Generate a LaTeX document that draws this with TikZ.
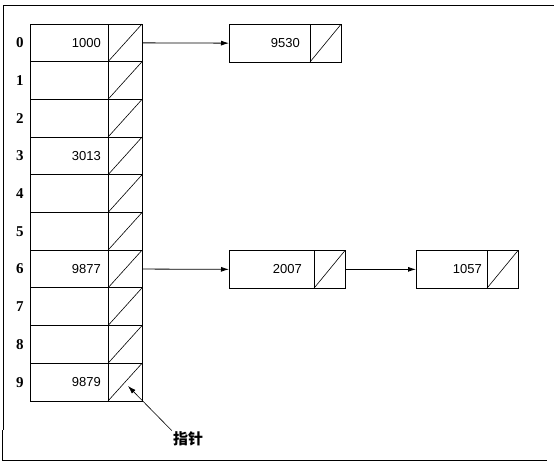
\documentclass[tikz,border=0pt]{standalone}
\usepackage{fontspec}
\setmainfont{Liberation Serif}
\newfontfamily\numfont{Liberation Sans}
\newfontfamily\cjk{Noto Sans CJK SC}
\usetikzlibrary{arrows.meta}
\begin{document}
\begin{tikzpicture}[x=1pt,y=-1pt,
  cell/.style={draw,line width=1pt,anchor=north west,minimum height=37.7pt,inner sep=0pt,outer sep=0pt},
  numtext/.style={anchor=east,inner sep=0pt,font=\numfont\fontsize{13}{15}\selectfont},
  rowlabel/.style={inner sep=0pt,font=\bfseries\fontsize{15}{17}\selectfont},
  slash/.style={line width=0.6pt},
  link/.style={line width=0.8pt,-{Latex[length=8pt,width=5pt]}}]
\useasboundingbox (0,0) rectangle (557,464);
% outer frame
\draw[line width=1pt] (3,5) -- (554,5);
\draw[line width=1pt] (3,5) -- (3,430);
\draw[line width=1pt] (2,430) -- (2,460) -- (547,460);
% hash table
\foreach \i in {0,...,9} {
  \node[cell,minimum width=78pt] (r\i) at (30,{24+\i*37.7}) {};
  \node[cell,minimum width=34pt] (p\i) at (r\i.north east) {};
  \draw[slash] (p\i.south west) -- (p\i.north east);
  \node[rowlabel] (l\i) at (20,{24+(\i+0.5)*37.7}) {\i};
}
\node[numtext] (t0) at (101,{24+0.5*37.7}) {1000};
\node[numtext] (t3) at (101,{24+3.5*37.7}) {3013};
\node[numtext] (t6) at (101,{24+6.5*37.7}) {9877};
\node[numtext] (t9) at (101,{24+9.5*37.7}) {9879};
% chain nodes
\node[cell,minimum width=81pt] (a1) at (229,24.3) {};
\node[cell,minimum width=31pt] (a2) at (a1.north east) {};
\draw[slash] (a2.south west) -- (a2.north east);
\node[numtext] (ta) at (300,43) {9530};
\node[cell,minimum width=85pt] (b1) at (229,250.5) {};
\node[cell,minimum width=31pt] (b2) at (b1.north east) {};
\draw[slash] (b2.south west) -- (b2.north east);
\node[numtext] (tb) at (302,269.3) {2007};
\node[cell,minimum width=71pt] (c1) at (416,250.5) {};
\node[cell,minimum width=31pt] (c2) at (c1.north east) {};
\draw[slash] (c2.south west) -- (c2.north east);
\node[numtext] (tc) at (482,269.3) {1057};
% links
\draw[link] (p0.east) -- (a1.west);
\draw[link] (p6.east) -- (b1.west);
\draw[link] (b2.east) -- (c1.west);
% pointer label
\node[inner sep=1pt,font=\cjk\bfseries\fontsize{15}{17}\selectfont] (ptr) at (188,439) {指针};
\coordinate (ptrend) at (128,386);
\draw[link,line width=0.6pt] (ptr.north west) -- (ptrend);
\end{tikzpicture}
\end{document}
